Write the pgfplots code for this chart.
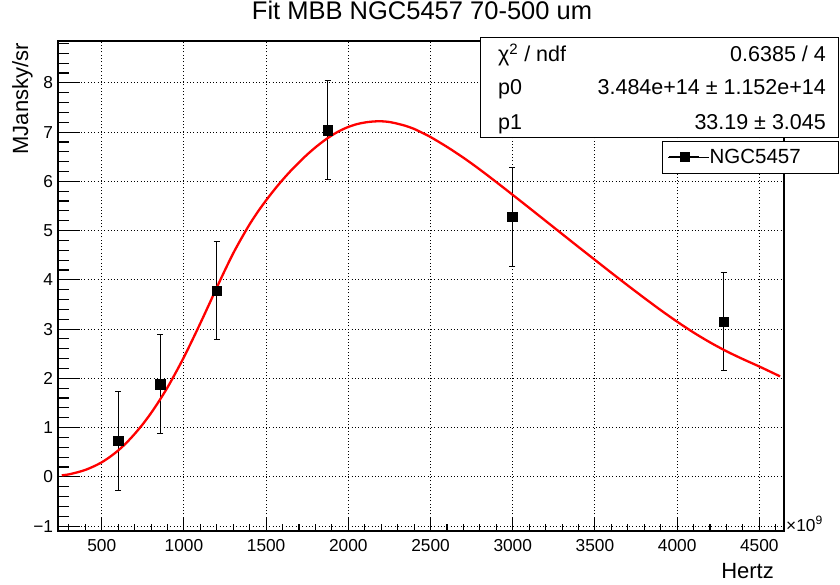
\documentclass[border=0pt]{standalone}
\usepackage{fontspec}
\setmainfont{Liberation Sans}
\usepackage{pgfplots}
\pgfplotsset{compat=1.18}
\begin{document}
\begin{tikzpicture}
\path[use as bounding box] (0,0) rectangle (840bp,585bp);
\begin{axis}[
  at={(58bp,54bp)}, anchor=south west,
  scale only axis, width=726bp, height=490bp,
  xmin=234, xmax=4650, ymin=-1.1, ymax=8.85,
  clip=false,
  axis line style={line width=1.4bp},
  xtick={500,1000,1500,2000,2500,3000,3500,4000,4500},
  xticklabels={500,1000,1500,2000,2500,3000,3500,4000,4500},
  ytick={-1,0,1,2,3,4,5,6,7,8},
  yticklabels={−1,0,1,2,3,4,5,6,7,8},
  minor xtick={300,400,600,700,800,900,1100,1200,1300,1400,1600,1700,1800,1900,2100,2200,2300,2400,2600,2700,2800,2900,3100,3200,3300,3400,3600,3700,3800,3900,4100,4200,4300,4400,4600},
  minor ytick={-0.8,-0.6,-0.4,-0.2,0.2,0.4,0.6,0.8,1.2,1.4,1.6,1.8,2.2,2.4,2.6,2.8,3.2,3.4,3.6,3.8,4.2,4.4,4.6,4.8,5.2,5.4,5.6,5.8,6.2,6.4,6.6,6.8,7.2,7.4,7.6,7.8,8.2,8.4,8.6,8.8},
  xtick pos=bottom, ytick pos=left, tick align=inside,
  xtick style={black, line width=1.1bp, /pgfplots/major tick length=14.5bp, /pgfplots/minor tick length=7.3bp},
  ytick style={black, line width=1.1bp, /pgfplots/major tick length=21.5bp, /pgfplots/minor tick length=10.8bp},
  grid=major,
  major grid style={black, line width=1bp, dash pattern=on 1bp off 2.3bp},
  xticklabel style={font=\fontsize{17.3bp}{19bp}\selectfont, anchor=base, inner sep=0pt, yshift=-20.7bp},
  yticklabel style={font=\fontsize{17.3bp}{19bp}\selectfont, anchor=east, inner sep=0pt, xshift=-4.7bp},
  title={Fit MBB NGC5457 70-500 um},
  title style={font=\fontsize{25.5bp}{28bp}\selectfont, at={(axis description cs:0.5014,1)}, anchor=base, inner sep=0pt, yshift=16bp},
  xlabel={Hertz},
  xlabel style={font=\fontsize{22bp}{24bp}\selectfont, at={(axis description cs:1,0)}, anchor=base east, inner sep=0pt, xshift=-10bp, yshift=-47bp},
  ylabel={MJansky/sr},
  ylabel style={font=\fontsize{22bp}{24bp}\selectfont, at={(axis description cs:-0.0413,0.996)}, anchor=base east, inner sep=0pt},
  legend style={at={(axis description cs:0.8402,0.7637)}, anchor=west, draw=none, fill=none,
    inner xsep=0pt, inner ysep=0pt, row sep=0pt,
    nodes={inner xsep=0pt, inner ysep=0pt},
    /tikz/every even column/.style={column sep=0pt},
    font=\fontsize{20.5bp}{22bp}\selectfont},
]
\draw[black, line width=1bp, fill=white] (axis description cs:0.832,0.7286) rectangle (axis description cs:1.0744,0.7959);
\addplot[black, only marks, mark=square*, mark size=4.7bp,
  legend image code/.code={
    \path (0bp,0bp) -- (41bp,0bp);
    \draw[black, line width=1bp] (1bp,0bp) -- (31bp,0bp);
    \fill[black] (11.5bp,-4.7bp) rectangle (20.5bp,4.7bp);
  },
  error bars/.cd, y dir=both, y explicit, error mark=|,
  error bar style={line width=1bp, black},
  error mark options={black, mark size=3bp, line width=1bp}]
  coordinates {
  (599.6,0.73) +- (0,1.0)
  (856.5,1.88) +- (0,1.0)
  (1199.2,3.78) +- (0,1.0)
  (1873.7,7.04) +- (0,1.0)
  (2997.9,5.28) +- (0,1.0)
  (4282.7,3.15) +- (0,1.0)
  };
\addlegendentry{NGC5457}
\addplot[red, line width=2.3bp, smooth, forget plot] coordinates {
  (257,0.03) (300,0.05) (350,0.09) (400,0.14) (450,0.21) (500,0.295) (550,0.405)
  (600,0.535) (650,0.69) (700,0.87) (750,1.07) (800,1.295) (850,1.545) (900,1.815)
  (950,2.115) (1000,2.43) (1050,2.77) (1100,3.12) (1150,3.48) (1200,3.845)
  (1250,4.2) (1300,4.54) (1350,4.845) (1400,5.13) (1450,5.385) (1500,5.615)
  (1550,5.83) (1600,6.03) (1650,6.215) (1700,6.385) (1750,6.545) (1800,6.69)
  (1850,6.82) (1900,6.935) (1950,7.03) (2000,7.105) (2050,7.16) (2100,7.195)
  (2150,7.215) (2200,7.22) (2250,7.205) (2300,7.17) (2350,7.125) (2400,7.065)
  (2450,6.985) (2500,6.90) (2600,6.70) (2700,6.48) (2800,6.24) (2900,5.985)
  (3000,5.725) (3100,5.462) (3200,5.197) (3300,4.932) (3400,4.667) (3500,4.405)
  (3600,4.143) (3700,3.885) (3800,3.632) (3900,3.385) (4000,3.15) (4100,2.93)
  (4200,2.73) (4300,2.55) (4400,2.39) (4500,2.24) (4626,2.04)
};
\draw[black, line width=1bp, fill=white] (axis description cs:0.5826,0.8027) rectangle (axis description cs:1.0744,1.0075);
\node[anchor=base west, inner sep=0pt, font=\fontsize{21.5bp}{23bp}\selectfont] at (axis description cs:0.606,0.9578) {χ\textsuperscript{2} / ndf};
\node[anchor=base east, inner sep=0pt, font=\fontsize{21.5bp}{23bp}\selectfont] at (axis description cs:1.0579,0.9578) {0.6385 / 4};
\node[anchor=base west, inner sep=0pt, font=\fontsize{21.5bp}{23bp}\selectfont] at (axis description cs:0.606,0.8898) {p0};
\node[anchor=base east, inner sep=0pt, font=\fontsize{21.5bp}{23bp}\selectfont] at (axis description cs:1.0579,0.8898) {3.484e+14 ± 1.152e+14};
\node[anchor=base west, inner sep=0pt, font=\fontsize{21.5bp}{23bp}\selectfont] at (axis description cs:0.606,0.8198) {p1};
\node[anchor=base east, inner sep=0pt, font=\fontsize{21.5bp}{23bp}\selectfont] at (axis description cs:1.0579,0.8198) {33.19 ± 3.045};
\node[anchor=base west, inner sep=0pt, xshift=2bp, font=\fontsize{17.3bp}{19bp}\selectfont] at (axis description cs:1,0) {×10\textsuperscript{9}};
\end{axis}
\end{tikzpicture}
\end{document}
